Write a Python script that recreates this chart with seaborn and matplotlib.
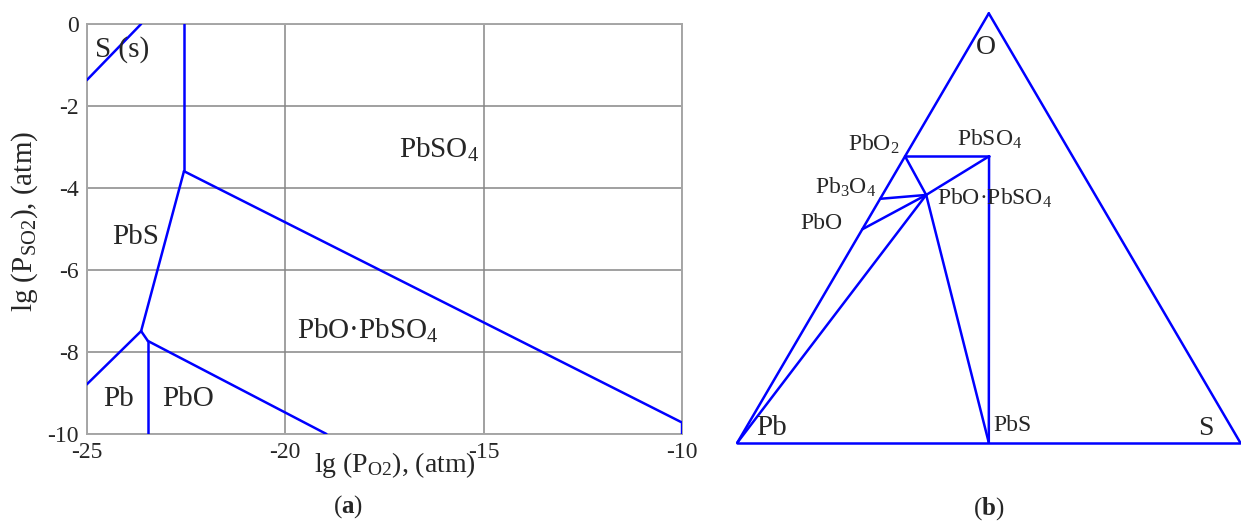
import numpy as np
import pandas as pd
import matplotlib
matplotlib.use("Agg")
import matplotlib.pyplot as plt
import seaborn as sns

# ---------------------------------------------
# (a) phase stability boundaries, lg P(O2) vs lg P(SO2)
# ---------------------------------------------
s_pbs_x = [-25.0, -23.63]
s_pbs_y = [-1.37, 0.0]

pbs_pbso4_x = [-22.55, -22.55]
pbs_pbso4_y = [0.0, -3.59]

pbso4_basic_x = [-22.55, -10.0, -10.0]
pbso4_basic_y = [-3.59, -9.72, -10.0]

pbs_basic_x = [-22.55, -23.63]
pbs_basic_y = [-3.59, -7.49]

pb_pbs_x = [-23.63, -25.0]
pb_pbs_y = [-7.49, -8.79]

pbs_pbo_x = [-23.63, -23.46]
pbs_pbo_y = [-7.49, -7.73]

pb_pbo_x = [-23.46, -23.46]
pb_pbo_y = [-7.73, -10.0]

pbo_basic_x = [-23.46, -18.96]
pbo_basic_y = [-7.73, -10.0]

field_names = ["S (s)", "PbSO$_4$", "PbS", "PbO·PbSO$_4$", "Pb", "PbO"]
field_x = [-24.12, -16.12, -23.78, -17.92, -24.19, -22.45]
field_y = [-0.80, -3.26, -5.37, -7.68, -9.32, -9.32]

x_ticks = [-25, -20, -15, -10]
y_ticks = [0, -2, -4, -6, -8, -10]

# ---------------------------------------------
# (b) Pb-O-S ternary, compositions as (O fraction, S fraction)
# ---------------------------------------------
phases = ["Pb", "O", "S", "PbO2", "PbSO4", "PbS", "Pb3O4", "PbO", "PbO.PbSO4"]
frac_O = [0.0, 1.0, 0.0, 0.667, 0.667, 0.0, 0.568, 0.497, 0.577]
frac_S = [0.0, 0.0, 1.0, 0.0, 0.167, 0.5, 0.0, 0.0, 0.087]

tie_lines = [("Pb", "O"), ("O", "S"), ("S", "Pb"),
             ("PbO2", "PbSO4"), ("PbSO4", "PbS"),
             ("PbO.PbSO4", "PbO2"), ("PbO.PbSO4", "PbSO4"),
             ("PbO.PbSO4", "Pb3O4"), ("PbO.PbSO4", "PbO"),
             ("PbO.PbSO4", "Pb"), ("PbO.PbSO4", "PbS")]

tern_labels = ["O", "PbO$_2$", "PbSO$_4$", "Pb$_3$O$_4$", "PbO·PbSO$_4$", "PbO", "Pb", "PbS", "S"]
tern_lx = [0.494, 0.3235, 0.501, 0.2757, 0.3976, 0.2087, 0.0372, 0.510, 0.932]
tern_ly = [0.784, 0.589, 0.600, 0.503, 0.481, 0.430, 0.0155, 0.0242, 0.0155]
tern_ha = ["center", "right", "center", "right", "left", "right", "left", "left", "center"]
tern_fs = [20, 17, 17, 17, 17, 17, 21, 17, 20]

sns.set_style("white")
plt.rcParams['font.family'] = ['Liberation Serif', 'DejaVu Serif']
plt.rcParams['mathtext.fontset'] = 'custom'
plt.rcParams['mathtext.rm'] = 'Liberation Serif'
plt.rcParams['mathtext.it'] = 'Liberation Serif:italic'
plt.rcParams['mathtext.bf'] = 'Liberation Serif:bold'
plt.rcParams['axes.unicode_minus'] = False

BLUE = "#0000ff"
GRID = "#868686"

fig = plt.figure(figsize=(12.41, 5.30), dpi=100)

# ---------- panel (a) ----------
ax = fig.add_axes([0.0699, 0.1811, 0.4797, 0.7736])
segs = [(s_pbs_x, s_pbs_y), (pbs_pbso4_x, pbs_pbso4_y), (pbso4_basic_x, pbso4_basic_y),
        (pbs_basic_x, pbs_basic_y), (pb_pbs_x, pb_pbs_y), (pbs_pbo_x, pbs_pbo_y),
        (pb_pbo_x, pb_pbo_y), (pbo_basic_x, pbo_basic_y)]
for sx, sy in segs:
    sns.lineplot(x=sx, y=sy, sort=False, estimator=None, color=BLUE, lw=1.8, ax=ax, zorder=3)

ax.set_xlim(-25, -10)
ax.set_ylim(-10, 0)
ax.set_xticks(x_ticks)
ax.set_yticks(y_ticks)
ax.grid(True, color=GRID, lw=1.1)
for sp in ax.spines.values():
    sp.set_color("#a6a6a6")
    sp.set_linewidth(1.4)
ax.tick_params(length=0, labelsize=17, pad=6)

for name, tx, ty in zip(field_names, field_x, field_y):
    ax.text(tx, ty, name, fontsize=21, ha="center", va="baseline", zorder=4)

ax.set_xlabel("lg (P$_{\\rm O2}$), (atm)", fontsize=20)
ax.xaxis.set_label_coords(0.518, -0.076)
ax.xaxis.label.set_va("center")
ax.set_ylabel("lg (P$_{\\rm SO2}$), (atm)", fontsize=21)
ax.yaxis.set_label_coords(-0.104, 0.518)
ax.yaxis.label.set_va("center")

# ---------- panel (b) ----------
h = np.sqrt(3) / 2
tern = pd.DataFrame({"phase": phases, "O": frac_O, "S": frac_S})
tern["x"] = tern["S"] + tern["O"] / 2
tern["y"] = tern["O"] * h
tern = tern.set_index("phase")

bx = fig.add_axes([737.3 / 1241, (530 - 442.7) / 530, 503 / 1241, 429.4 / 530])
for a, b in tie_lines:
    seg = tern.loc[[a, b]]
    sns.lineplot(data=seg, x="x", y="y", sort=False, estimator=None, color=BLUE,
                 lw=1.8, ax=bx, clip_on=False)
bx.set_xlim(0, 1)
bx.set_ylim(0, h)
bx.axis("off")

for lab, tx, ty, ha, fs in zip(tern_labels, tern_lx, tern_ly, tern_ha, tern_fs):
    bx.text(tx, ty, lab, fontsize=fs, ha=ha, va="baseline")

# captions
fig.text(348 / 1241, 1 - 507 / 530, "($\\mathbf{a}$)", fontsize=18, ha="center", va="center")
fig.text(989 / 1241, 1 - 509 / 530, "($\\mathbf{b}$)", fontsize=18, ha="center", va="center")

fig.savefig("out.png", dpi=100)
